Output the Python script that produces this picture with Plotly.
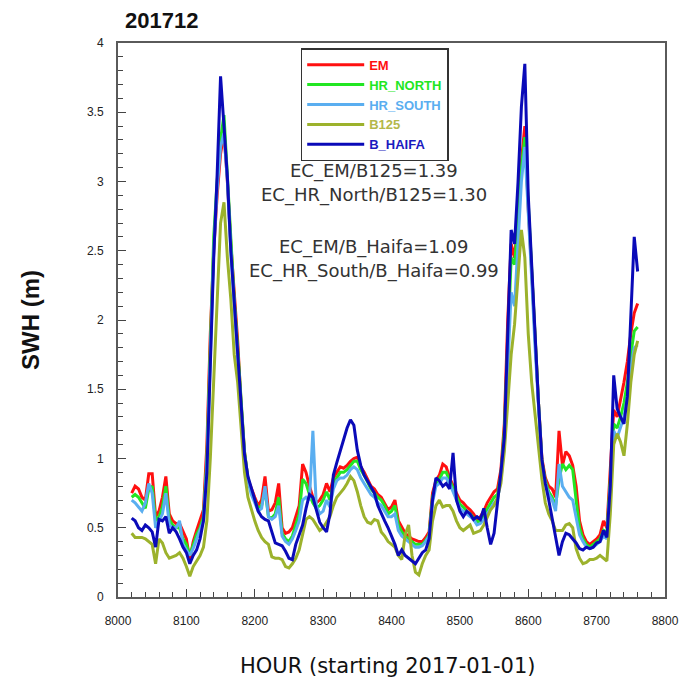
import plotly.graph_objects as go

# Hours (starting 2017-01-01), 5-hour sampling of the plotted record
HOURS = list(range(8020, 8761, 5))

SERIES_NAMES = ["EM", "HR_NORTH", "HR_SOUTH", "B125", "B_HAIFA"]

SWH_EM = [
    0.75, 0.80, 0.78, 0.72, 0.70, 0.89, 0.89, 0.58, 0.62, 0.72,
    0.87, 0.60, 0.55, 0.53, 0.53, 0.48, 0.42, 0.27, 0.40, 0.48,
    0.55, 0.63, 1.10, 1.90, 2.50, 2.90, 3.20, 3.35, 3.00, 2.55,
    2.20, 1.85, 1.40, 1.05, 0.85, 0.78, 0.72, 0.66, 0.70, 0.87,
    0.62, 0.63, 0.68, 0.82, 0.50, 0.46, 0.47, 0.50, 0.58, 0.66,
    0.96, 0.90, 0.80, 0.72, 0.68, 0.70, 0.74, 0.82, 0.76, 0.86,
    0.90, 0.94, 0.93, 0.95, 0.98, 1.00, 1.01, 0.94, 0.90, 0.85,
    0.80, 0.78, 0.74, 0.72, 0.68, 0.63, 0.65, 0.70, 0.55, 0.50,
    0.46, 0.44, 0.42, 0.41, 0.40, 0.40, 0.43, 0.47, 0.75, 0.84,
    0.88, 0.96, 0.94, 0.86, 0.80, 0.75, 0.70, 0.68, 0.65, 0.63,
    0.60, 0.56, 0.58, 0.62, 0.68, 0.72, 0.76, 0.78, 0.92, 1.25,
    2.00, 2.55, 2.45, 2.75, 3.15, 3.40, 2.80, 2.35, 1.85, 1.40,
    1.00, 0.86, 0.80, 0.78, 0.72, 1.20, 0.95, 1.05, 1.02, 0.95,
    0.80, 0.55, 0.45, 0.40, 0.38, 0.40, 0.42, 0.45, 0.55, 0.50,
    0.95, 1.35, 1.30, 1.42, 1.55, 1.70, 1.90, 2.05, 2.12,
]

SWH_HR_NORTH = [
    0.72, 0.74, 0.72, 0.68, 0.64, 0.78, 0.80, 0.55, 0.58, 0.65,
    0.80, 0.56, 0.52, 0.50, 0.50, 0.42, 0.38, 0.30, 0.38, 0.45,
    0.50, 0.58, 1.00, 1.80, 2.60, 3.00, 3.30, 3.48, 3.05, 2.55,
    2.15, 1.80, 1.38, 1.05, 0.86, 0.76, 0.70, 0.64, 0.66, 0.78,
    0.58, 0.57, 0.60, 0.72, 0.46, 0.42, 0.40, 0.44, 0.52, 0.60,
    0.85, 0.82, 0.74, 0.68, 0.64, 0.66, 0.70, 0.76, 0.70, 0.82,
    0.86, 0.90, 0.90, 0.92, 0.95, 0.98, 0.98, 0.92, 0.88, 0.83,
    0.78, 0.75, 0.72, 0.70, 0.66, 0.60, 0.62, 0.66, 0.52, 0.47,
    0.44, 0.42, 0.40, 0.38, 0.38, 0.38, 0.41, 0.45, 0.72, 0.82,
    0.85, 0.90, 0.90, 0.84, 0.78, 0.72, 0.67, 0.65, 0.62, 0.60,
    0.57, 0.54, 0.55, 0.59, 0.64, 0.68, 0.72, 0.74, 0.88, 1.20,
    1.90, 2.45, 2.40, 2.70, 3.10, 3.32, 2.85, 2.35, 1.85, 1.40,
    0.98, 0.84, 0.76, 0.72, 0.66, 0.85, 0.96, 0.92, 0.95, 0.92,
    0.70, 0.50, 0.42, 0.38, 0.36, 0.38, 0.40, 0.42, 0.48, 0.46,
    0.85, 1.25, 1.22, 1.30, 1.40, 1.55, 1.75, 1.92, 1.95,
]

SWH_HR_SOUTH = [
    0.70, 0.68, 0.65, 0.62, 0.68, 0.82, 0.75, 0.50, 0.55, 0.60,
    0.75, 0.52, 0.50, 0.50, 0.55, 0.38, 0.34, 0.30, 0.35, 0.42,
    0.48, 0.55, 0.95, 1.70, 2.50, 2.95, 3.25, 3.35, 3.00, 2.50,
    2.10, 1.75, 1.35, 1.02, 0.84, 0.74, 0.68, 0.62, 0.64, 0.80,
    0.58, 0.56, 0.58, 0.66, 0.44, 0.40, 0.38, 0.42, 0.48, 0.55,
    0.70, 0.72, 0.70, 1.20, 0.66, 0.60, 0.62, 0.70, 0.65, 0.78,
    0.84, 0.86, 0.86, 0.88, 0.92, 0.94, 0.92, 0.86, 0.82, 0.78,
    0.74, 0.72, 0.68, 0.66, 0.62, 0.58, 0.58, 0.60, 0.48, 0.44,
    0.42, 0.40, 0.38, 0.36, 0.36, 0.37, 0.40, 0.44, 0.68, 0.80,
    0.82, 0.86, 0.86, 0.82, 0.76, 0.70, 0.64, 0.62, 0.60, 0.58,
    0.56, 0.52, 0.53, 0.56, 0.60, 0.64, 0.68, 0.70, 0.85, 1.10,
    1.70, 2.20, 2.10, 2.55, 3.00, 3.25, 2.80, 2.30, 1.80, 1.35,
    0.96, 0.82, 0.74, 0.70, 0.62, 0.96, 0.80, 0.76, 0.72, 0.70,
    0.58, 0.45, 0.40, 0.36, 0.35, 0.36, 0.38, 0.40, 0.44, 0.42,
    0.80, 1.20, 1.15, 1.22, 1.30, 1.45, 1.65, 1.80, 1.82,
]

SWH_B125 = [
    0.46, 0.43, 0.43, 0.43, 0.42, 0.40, 0.38, 0.24, 0.42, 0.39,
    0.32, 0.28, 0.29, 0.30, 0.32, 0.28, 0.22, 0.15, 0.22, 0.26,
    0.30, 0.36, 0.55, 1.00, 1.55, 2.10, 2.70, 2.85, 2.45, 2.15,
    1.75, 1.55, 1.20, 0.90, 0.72, 0.63, 0.55, 0.48, 0.43, 0.40,
    0.38, 0.29, 0.28, 0.28, 0.27, 0.22, 0.21, 0.24, 0.28, 0.34,
    0.45, 0.56, 0.58, 0.56, 0.52, 0.48, 0.50, 0.54, 0.58, 0.66,
    0.72, 0.75, 0.78, 0.82, 0.87, 0.84, 0.76, 0.66, 0.58, 0.54,
    0.53, 0.56, 0.55, 0.47, 0.44, 0.40, 0.38, 0.36, 0.30, 0.27,
    0.45, 0.52, 0.30, 0.18, 0.16, 0.24, 0.30, 0.34, 0.55, 0.66,
    0.70, 0.65, 0.66, 0.66, 0.62, 0.55, 0.50, 0.48, 0.50, 0.52,
    0.46, 0.47, 0.48, 0.52, 0.58, 0.63, 0.66, 0.72, 0.82, 1.05,
    1.40, 1.75, 1.97, 2.35, 2.65, 2.45, 1.90, 1.55, 1.30, 1.05,
    0.85, 0.68, 0.60, 0.55, 0.48, 0.48, 0.48, 0.52, 0.53, 0.50,
    0.35, 0.28, 0.24, 0.25, 0.27, 0.27, 0.28, 0.30, 0.28, 0.26,
    0.60, 1.10, 1.18, 1.12, 1.02, 1.25, 1.55, 1.75, 1.85,
]

SWH_B_HAIFA = [
    0.57, 0.55, 0.50, 0.48, 0.52, 0.50, 0.47, 0.36, 0.56, 0.55,
    0.58, 0.46, 0.50, 0.47, 0.42, 0.36, 0.32, 0.24, 0.30, 0.34,
    0.42, 0.55, 0.90, 1.75, 2.45, 3.05, 3.76, 3.40, 3.03, 2.50,
    2.12, 1.77, 1.35, 1.03, 0.87, 0.78, 0.70, 0.62, 0.58, 0.56,
    0.55, 0.46, 0.39, 0.38, 0.37, 0.33, 0.28, 0.27, 0.38, 0.45,
    0.52, 0.64, 0.74, 0.72, 0.62, 0.54, 0.50, 0.47, 0.60, 0.88,
    0.97, 1.06, 1.15, 1.22, 1.28, 1.24, 1.06, 0.95, 0.88, 0.84,
    0.80, 0.75, 0.66, 0.60, 0.55, 0.50, 0.44, 0.38, 0.30, 0.34,
    0.30, 0.28, 0.26, 0.24, 0.28, 0.32, 0.34, 0.42, 0.70, 0.86,
    0.84, 0.80, 0.82, 0.78, 1.04, 0.70, 0.62, 0.58, 0.62, 0.60,
    0.56, 0.58, 0.56, 0.64, 0.50, 0.38, 0.46, 0.66, 0.90, 1.15,
    1.85, 2.65, 2.55, 2.99, 3.54, 3.85, 2.90, 2.40, 1.85, 1.40,
    0.99, 0.82, 0.70, 0.56, 0.42, 0.30, 0.40, 0.46, 0.45, 0.42,
    0.39, 0.35, 0.34, 0.36, 0.35, 0.36, 0.39, 0.40, 0.48, 0.43,
    0.80, 1.60, 1.36, 1.30, 1.25, 1.45, 2.00, 2.60, 2.35,
]

RATIO_TEXTS = [
    "EC_EM/B125=1.39",
    "EC_HR_North/B125=1.30",
    "EC_EM/B_Haifa=1.09",
    "EC_HR_South/B_Haifa=0.99",
]
RATIO_Y = [3.075, 2.90, 2.53, 2.355]
RATIO_X = 8374

X_TICKS = [8000, 8100, 8200, 8300, 8400, 8500, 8600, 8700, 8800]
Y_TICKS = [0, 0.5, 1, 1.5, 2, 2.5, 3, 3.5, 4]
Y_TICK_TEXT = ["0", "0.5", "1", "1.5", "2", "2.5", "3", "3.5", "4"]

LINE_COLORS = ["#ff1010", "#22e622", "#5aaef0", "#9cb22c", "#0a0ab8"]
TEXT_COLORS = ["#ff1010", "#22e622", "#5aaef0", "#b4b84a", "#1a1ac0"]

series_values = [SWH_EM, SWH_HR_NORTH, SWH_HR_SOUTH, SWH_B125, SWH_B_HAIFA]

fig = go.Figure()
for name, vals, lc, tc in zip(SERIES_NAMES, series_values, LINE_COLORS, TEXT_COLORS):
    fig.add_trace(go.Scatter(
        x=HOURS, y=vals, mode="lines",
        name=f'<span style="color:{tc}"><b>{name}</b></span>',
        line=dict(color=lc, width=3),
    ))

axis_common = dict(
    showgrid=False, zeroline=False,
    showline=True, linecolor="#5a5a5a", linewidth=2, mirror=True,
    ticks="inside", tickcolor="#444", tickwidth=1, ticklen=8,
    tickfont=dict(family="Liberation Sans, Arial", size=12, color="#222"),
)

fig.update_xaxes(
    range=[8000, 8800], tickmode="array", tickvals=X_TICKS,
    ticktext=[str(v) for v in X_TICKS], ticklabelstandoff=12,
    minor=dict(dtick=20, ticks="inside", ticklen=5, tickcolor="#444"),
    **axis_common,
)
fig.update_yaxes(
    range=[0, 4], tickmode="array", tickvals=Y_TICKS, ticktext=Y_TICK_TEXT,
    ticklabelstandoff=10,
    minor=dict(dtick=0.1, ticks="inside", ticklen=5, tickcolor="#444"),
    **axis_common,
)

annotations = []
for t, yv in zip(RATIO_TEXTS, RATIO_Y):
    annotations.append(dict(
        x=RATIO_X, y=yv, xref="x", yref="y", text=t, showarrow=False,
        xanchor="center", yanchor="middle",
        font=dict(family="DejaVu Sans", size=18, color="#333"),
    ))
annotations.append(dict(
    x=0, y=0.5, xref="paper", yref="paper", text="<b>SWH (m)</b>",
    showarrow=False, textangle=-90, xanchor="center", yanchor="middle",
    xshift=-88, font=dict(family="Liberation Sans, Arial", size=24, color="#111"),
))
annotations.append(dict(
    x=0.492, y=0, xref="paper", yref="paper", text="HOUR (starting 2017-01-01)",
    showarrow=False, xanchor="center", yanchor="middle", yshift=-69,
    font=dict(family="DejaVu Sans", size=21, color="#111"),
))

fig.update_layout(
    width=691, height=697,
    margin=dict(l=118, r=18, t=43, b=100),
    paper_bgcolor="white", plot_bgcolor="white",
    title=dict(text="<b>201712</b>", x=125 / 691, xanchor="left",
               y=1 - 20 / 697, yanchor="middle", xref="container", yref="container",
               font=dict(family="Liberation Sans, Arial", size=22, color="#111")),
    legend=dict(x=0.334, y=0.9905, xanchor="left", yanchor="top",
                bgcolor="white", bordercolor="#333", borderwidth=1.5,
                font=dict(family="Liberation Sans, Arial", size=13),
                itemwidth=57, tracegroupgap=0),
    showlegend=True,
    annotations=annotations,
)

fig.write_html("out.html")
